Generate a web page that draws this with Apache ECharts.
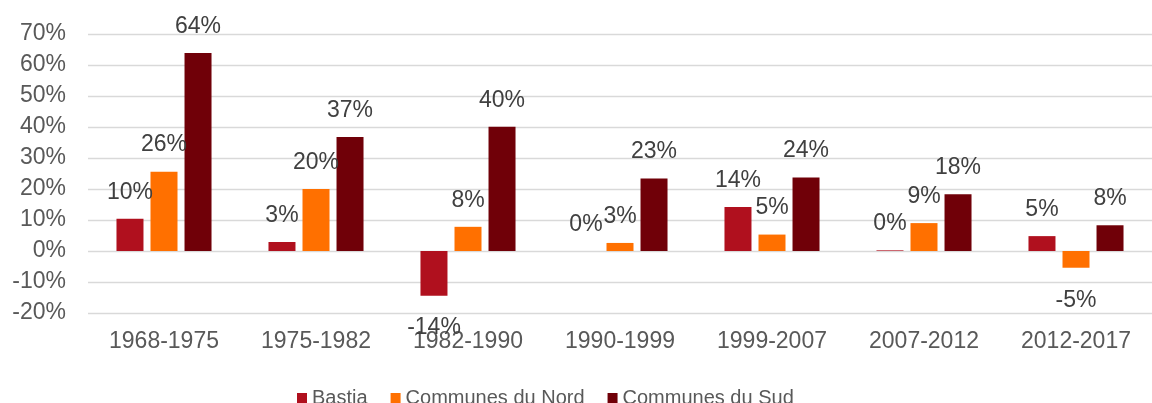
<!DOCTYPE html>
<html>
<head>
    <meta charset="UTF-8">
    <title>Evolution de la population</title>
    <script src="https://cdn.jsdelivr.net/npm/echarts@6/dist/echarts.min.js"></script>
    <style>
        html, body { margin: 0; padding: 0; background: #fff; }
        #chart { width: 1152px; height: 403px; }
    </style>
</head>
<body>
<div id="chart"></div>
<script>
    // périodes intercensitaires
    var categories = ['1968-1975', '1975-1982', '1982-1990', '1990-1999', '1999-2007', '2007-2012', '2012-2017'];
    // variation de population en %
    var bastia = [10.4, 2.9, -14.4, 0, 14.2, 0.2, 4.8];
    var nord = [25.6, 20.0, 7.8, 2.6, 5.3, 9.0, -5.4];
    var sud = [63.9, 36.8, 40.1, 23.4, 23.7, 18.3, 8.3];
    var yTicks = [-20, -10, 0, 10, 20, 30, 40, 50, 60, 70];

    var fontFamily = "'Liberation Sans', Arial, sans-serif";
    var fontSize = 23;

    // les valeurs négatives ont leur étiquette sous la barre
    function toData(arr) {
        return arr.map(function (v) {
            if (v < 0) {
                return { value: v, label: { position: 'bottom', distance: 21 } };
            }
            return v;
        });
    }

    function makeSeries(name, arr, color) {
        return {
            name: name,
            type: 'bar',
            data: toData(arr),
            barWidth: 27,
            barGap: '26%',
            itemStyle: { color: color },
            label: {
                show: true,
                position: 'top',
                distance: 15,
                fontFamily: fontFamily,
                fontSize: fontSize,
                color: '#404040',
                formatter: function (p) { return Math.round(p.value) + '%'; }
            }
        };
    }

    var myChart = echarts.init(document.getElementById('chart'));
    var option = {
        animation: false,
        textStyle: { fontFamily: fontFamily },
        grid: {
            left: 88,
            right: -10,
            top: 34,
            bottom: 90,
            containLabel: false
        },
        legend: {
            data: ['Bastia', 'Communes du Nord', 'Communes du Sud'],
            left: 297,
            top: 388,
            padding: 0,
            icon: 'rect',
            itemWidth: 10,
            itemHeight: 10,
            itemGap: 23,
            textStyle: { fontFamily: fontFamily, fontSize: 20, color: '#595959' }
        },
        xAxis: {
            type: 'category',
            data: categories,
            axisLine: { show: false },
            axisTick: { show: false },
            axisLabel: {
                margin: 17,
                fontFamily: fontFamily,
                fontSize: fontSize,
                color: '#595959'
            }
        },
        yAxis: {
            type: 'value',
            min: yTicks[0],
            max: yTicks[yTicks.length - 1],
            interval: 10,
            axisLine: { show: false },
            axisTick: { show: false },
            axisLabel: {
                margin: 22,
                fontFamily: fontFamily,
                fontSize: fontSize,
                color: '#595959',
                formatter: '{value}%'
            },
            splitLine: { lineStyle: { color: '#d9d9d9', width: 1.3 } }
        },
        series: [
            makeSeries('Bastia', bastia, '#b0101e'),
            makeSeries('Communes du Nord', nord, '#ff7000'),
            makeSeries('Communes du Sud', sud, '#700008')
        ]
    };
    myChart.setOption(option);
</script>
</body>
</html>
